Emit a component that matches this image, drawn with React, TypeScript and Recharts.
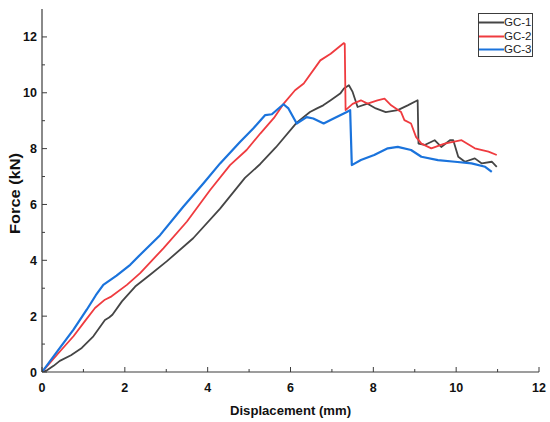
import React from "react";
import { LineChart, Line, XAxis, YAxis } from "recharts";

type Pt = { x: number; y: number };
const toPts = (a: number[][]): Pt[] => a.map(([x, y]) => ({ x, y }));

const gc1Raw: number[][] = [
  [0, 0], [0.12, 0.06], [0.28, 0.22], [0.43, 0.4], [0.7, 0.6], [0.96, 0.86], [1.24, 1.28], [1.52, 1.86], [1.62, 1.95],
  [1.7, 2.05], [1.93, 2.53], [2.25, 3.06], [2.61, 3.48], [3.01, 3.96], [3.65, 4.79], [4.3, 5.85], [4.9, 6.95],
  [5.27, 7.45], [5.65, 8.05], [6.15, 8.93], [6.47, 9.31], [6.64, 9.44], [6.79, 9.55], [6.97, 9.73], [7.2, 9.97],
  [7.29, 10.15], [7.41, 10.27], [7.5, 10.03], [7.62, 9.49], [7.86, 9.61], [8.06, 9.44], [8.3, 9.31], [8.59, 9.38],
  [8.83, 9.55], [9.07, 9.73], [9.09, 8.18], [9.24, 8.13], [9.48, 8.3], [9.64, 8.06], [9.85, 8.3], [9.93, 8.3],
  [10.05, 7.71], [10.21, 7.53], [10.45, 7.65], [10.62, 7.47], [10.86, 7.53], [10.98, 7.35],
];

const gc2Raw: number[][] = [
  [0, 0], [0.4, 0.68], [0.76, 1.28], [1.05, 1.85], [1.28, 2.29], [1.52, 2.59], [1.68, 2.71], [2.05, 3.12],
  [2.37, 3.54], [2.93, 4.43], [3.5, 5.39], [4.06, 6.52], [4.54, 7.41], [4.94, 7.95], [5.27, 8.54], [5.6, 9.1],
  [5.83, 9.6], [6.11, 10.09], [6.32, 10.33], [6.72, 11.16], [6.97, 11.4], [7.17, 11.64], [7.29, 11.78],
  [7.31, 11.75], [7.33, 9.38], [7.5, 9.6], [7.7, 9.73], [7.86, 9.61], [8.1, 9.73], [8.27, 9.79], [8.43, 9.55],
  [8.67, 9.31], [8.75, 9.02], [8.91, 8.9], [9.03, 8.42], [9.16, 8.18], [9.4, 8.01], [9.72, 8.18], [10.13, 8.3],
  [10.45, 8.01], [10.78, 7.89], [10.98, 7.77],
];

const gc3Raw: number[][] = [
  [0, 0], [0.4, 0.8], [0.76, 1.52], [1.08, 2.23], [1.3, 2.75], [1.48, 3.12], [1.8, 3.45], [2.13, 3.84],
  [2.37, 4.2], [2.85, 4.9], [3.41, 5.92], [3.9, 6.76], [4.3, 7.47], [4.78, 8.24], [5.1, 8.72], [5.39, 9.2],
  [5.55, 9.23], [5.83, 9.59], [5.95, 9.44], [6.15, 8.9], [6.39, 9.13], [6.55, 9.08], [6.8, 8.9], [7.04, 9.08],
  [7.36, 9.31], [7.44, 9.38], [7.48, 7.41], [7.7, 7.59], [8.02, 7.77], [8.35, 8.01], [8.59, 8.06], [8.91, 7.95],
  [9.16, 7.71], [9.56, 7.59], [9.97, 7.53], [10.37, 7.47], [10.7, 7.35], [10.86, 7.17],
];

const seriesNames = ["GC-1", "GC-2", "GC-3"];
const seriesColors = ["#454545", "#ef3b3f", "#1a73dc"];
const seriesWidths = [1.8, 1.8, 2.2];
const seriesData = [toPts(gc1Raw), toPts(gc2Raw), toPts(gc3Raw)];

const xTicks = [0, 1, 2, 3, 4, 5, 6, 7, 8, 9, 10, 11, 12];
const yTicks = [0, 1, 2, 3, 4, 5, 6, 7, 8, 9, 10, 11, 12];
const xLabel = "Displacement (mm)";
const yLabel = "Force (kN)";

const FONT = "'Liberation Sans', Arial, Helvetica, sans-serif";
const AXIS_COLOR = "#3c3c3c";

const XTick = (props: any) => {
  const { x, y, payload } = props;
  const v = payload.value;
  const major = v % 2 === 0;
  return (
    <g>
      <line x1={x} y1={y} x2={x} y2={y - (major ? 5 : 3)} stroke={AXIS_COLOR} strokeWidth={1} />
      {major && (
        <text x={x} y={y + 19.5} textAnchor="middle" fontFamily={FONT} fontWeight="bold" fontSize={12.5} fill="#111">
          {v}
        </text>
      )}
    </g>
  );
};

const YTick = (props: any) => {
  const { x, y, payload } = props;
  const v = payload.value;
  const major = v % 2 === 0;
  return (
    <g>
      <line x1={x} y1={y} x2={x + (major ? 5 : 3)} y2={y} stroke={AXIS_COLOR} strokeWidth={1} />
      {major && (
        <text x={x - 5} y={y + 4.5} textAnchor="end" fontFamily={FONT} fontWeight="bold" fontSize={12.5} fill="#111">
          {v}
        </text>
      )}
    </g>
  );
};

const XLabelContent = (props: any) => {
  const vb = props.viewBox || {};
  const cx = vb.x + vb.width / 2;
  return (
    <text
      x={cx}
      y={415}
      textAnchor="middle"
      fontFamily={FONT}
      fontWeight="bold"
      fontSize={13}
      fill="#111"
      textLength={121}
      lengthAdjust="spacingAndGlyphs"
    >
      {xLabel}
    </text>
  );
};

const YLabelContent = (props: any) => {
  const vb = props.viewBox || {};
  const cy = vb.y + vb.height / 2 + 3;
  const cx = 15;
  return (
    <text
      x={cx}
      y={cy}
      transform={`rotate(-90, ${cx}, ${cy})`}
      textAnchor="middle"
      dominantBaseline="central"
      fontFamily={FONT}
      fontWeight="bold"
      fontSize={14}
      fill="#111"
      textLength={81}
      lengthAdjust="spacingAndGlyphs"
    >
      {yLabel}
    </text>
  );
};

export default function App() {
  return (
    <div style={{ position: "absolute", left: 0, top: 0, width: 550, height: 422, background: "#fff" }}>
      <LineChart width={550} height={422} margin={{ top: 9, right: 11, bottom: 0, left: 0 }}>
        <XAxis
          type="number"
          dataKey="x"
          domain={[0, 12]}
          ticks={xTicks}
          interval={0}
          height={50}
          tickSize={0}
          tickMargin={0}
          tickLine={false}
          axisLine={{ stroke: AXIS_COLOR, strokeWidth: 1.2 }}
          tick={<XTick />}
          label={<XLabelContent />}
          allowDataOverflow
        />
        <XAxis
          xAxisId="top"
          orientation="top"
          type="number"
          domain={[0, 12]}
          height={0}
          tick={false}
          tickLine={false}
          axisLine={{ stroke: AXIS_COLOR, strokeWidth: 1.2 }}
        />
        <YAxis
          type="number"
          domain={[0, 13]}
          ticks={yTicks}
          interval={0}
          width={42}
          tickSize={0}
          tickMargin={0}
          tickLine={false}
          axisLine={{ stroke: AXIS_COLOR, strokeWidth: 1.2 }}
          tick={<YTick />}
          label={<YLabelContent />}
          allowDataOverflow
        />
        <YAxis
          yAxisId="right"
          orientation="right"
          type="number"
          domain={[0, 13]}
          width={0}
          tick={false}
          tickLine={false}
          axisLine={{ stroke: AXIS_COLOR, strokeWidth: 1.2 }}
        />
        {seriesData.map((d, i) => (
          <Line
            key={seriesNames[i]}
            data={d}
            dataKey="y"
            name={seriesNames[i]}
            type="linear"
            stroke={seriesColors[i]}
            strokeWidth={seriesWidths[i]}
            strokeLinejoin="round"
            dot={false}
            activeDot={false}
            isAnimationActive={false}
          />
        ))}
      </LineChart>
      <div
        style={{
          position: "absolute",
          left: 478,
          top: 13,
          width: 55,
          height: 44,
          border: `1px solid ${AXIS_COLOR}`,
          background: "#fff",
          boxSizing: "border-box",
        }}
      >
        {seriesNames.map((n, i) => (
          <div
            key={n}
            style={{
              position: "absolute",
              left: 0,
              top: 2 + i * 13.5,
              height: 13,
              display: "flex",
              alignItems: "center",
              fontFamily: FONT,
              fontSize: 11.5,
              color: "#222",
              lineHeight: "13px",
            }}
          >
            <svg width={25} height={13} style={{ display: "block" }}>
              <line x1={0} y1={6.5} x2={25} y2={6.5} stroke={seriesColors[i]} strokeWidth={2} />
            </svg>
            <span>{n}</span>
          </div>
        ))}
      </div>
    </div>
  );
}
